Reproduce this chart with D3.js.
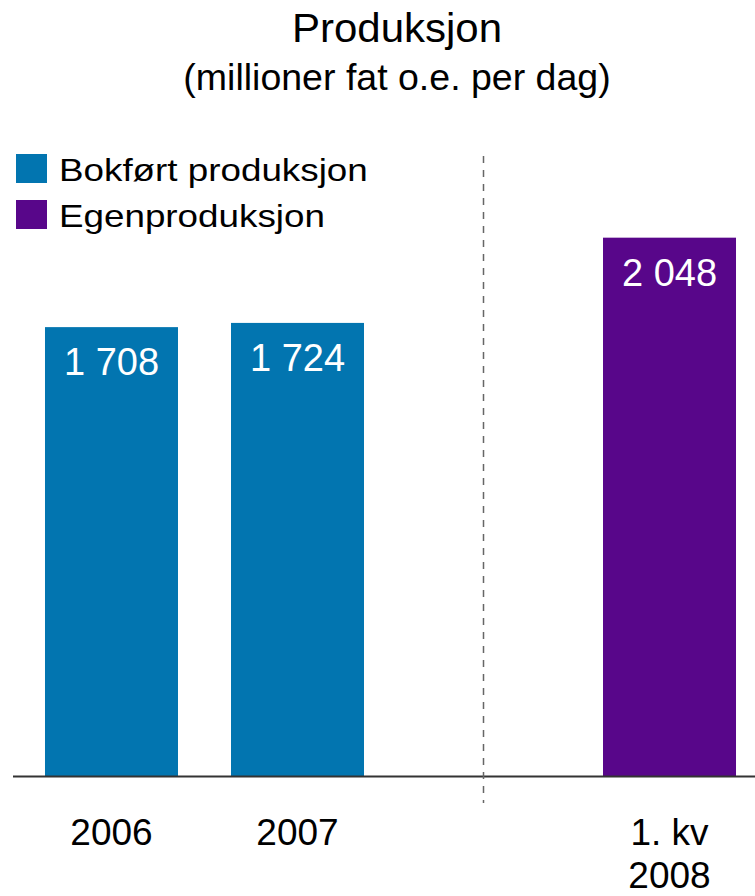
<!DOCTYPE html>
<html>
<head>
<meta charset="utf-8">
<script src="https://cdn.jsdelivr.net/npm/d3@7"></script>
<style>
  body { margin: 0; background: #fff; }
  svg { display: block; font-family: "Liberation Sans", Arial, sans-serif; }
</style>
</head>
<body>
<div id="chart"></div>
<script>
// data
const categories = ["2006", "2007", "gap", "1. kv 2008"];
const catLines = [["2006"], ["2007"], [], ["1. kv", "2008"]];
const values = [1708, 1724, null, 2048];
const seriesOf = [0, 0, null, 1];
const seriesNames = ["Bokført produksjon", "Egenproduksjon"];
const seriesColors = ["#0275b0", "#58068a"];

const width = 755, height = 896;
const baseY = 776.5;

const svg = d3.select("#chart").append("svg")
  .attr("width", width)
  .attr("height", height);

// title
svg.append("text")
  .attr("x", 397).attr("y", 42)
  .attr("text-anchor", "middle")
  .attr("font-size", 40)
  .attr("transform", "translate(397,0) scale(1.05,1) translate(-397,0)")
  .text("Produksjon");
svg.append("text")
  .attr("x", 397).attr("y", 90)
  .attr("text-anchor", "middle")
  .attr("font-size", 37.5)
  .text("(millioner fat o.e. per dag)");

const x = d3.scaleBand()
  .domain(categories)
  .range([13, 768])
  .paddingInner(0.285)
  .paddingOuter(0.172);

const y = d3.scaleLinear()
  .domain([0, 2100])
  .range([baseY, baseY - 2100 * 0.2631]);

const fmt = d3.formatLocale({ decimal: ",", thousands: " ", grouping: [3], currency: ["", ""] }).format(",d");

const rows = categories.map((c, i) => ({ c, v: values[i], s: seriesOf[i], lines: catLines[i] }));
const bars = rows.filter(d => d.v != null);

svg.append("g").selectAll("rect")
  .data(bars)
  .join("rect")
  .attr("x", d => x(d.c))
  .attr("y", d => y(d.v))
  .attr("width", x.bandwidth())
  .attr("height", d => baseY - y(d.v))
  .attr("fill", d => seriesColors[d.s]);

svg.append("g").selectAll("text")
  .data(bars)
  .join("text")
  .attr("x", d => x(d.c) + x.bandwidth() / 2)
  .attr("y", d => y(d.v) + 48)
  .attr("text-anchor", "middle")
  .attr("font-size", 38)
  .attr("fill", "#fff")
  .text(d => fmt(d.v));

// baseline
svg.append("line")
  .attr("x1", 13).attr("x2", width)
  .attr("y1", baseY).attr("y2", baseY)
  .attr("stroke", "#333")
  .attr("stroke-width", 2);

// divider
const divX = x("gap") + x.bandwidth() / 2;
svg.append("line")
  .attr("x1", divX).attr("x2", divX)
  .attr("y1", 156).attr("y2", 803)
  .attr("stroke", "#666")
  .attr("stroke-width", 1.5)
  .attr("stroke-dasharray", "7,7");

// category labels
const lab = svg.append("g").selectAll("text")
  .data(rows)
  .join("text")
  .attr("text-anchor", "middle")
  .attr("font-size", 37)
  .attr("fill", "#000");
lab.selectAll("tspan")
  .data(d => d.lines.map(t => ({ t, cx: x(d.c) + x.bandwidth() / 2 })))
  .join("tspan")
  .attr("x", d => d.cx)
  .attr("y", (d, i) => 845 + i * 43)
  .text(d => d.t);

// legend
const leg = svg.append("g").selectAll("g")
  .data(seriesNames)
  .join("g")
  .attr("transform", (d, i) => `translate(16,${154 + i * 46})`);
leg.append("rect")
  .attr("width", 31).attr("height", 29)
  .attr("fill", (d, i) => seriesColors[i]);
leg.append("text")
  .attr("transform", "translate(43,27) scale(1.15,1)")
  .attr("font-size", 32)
  .text(d => d);
</script>
</body>
</html>
